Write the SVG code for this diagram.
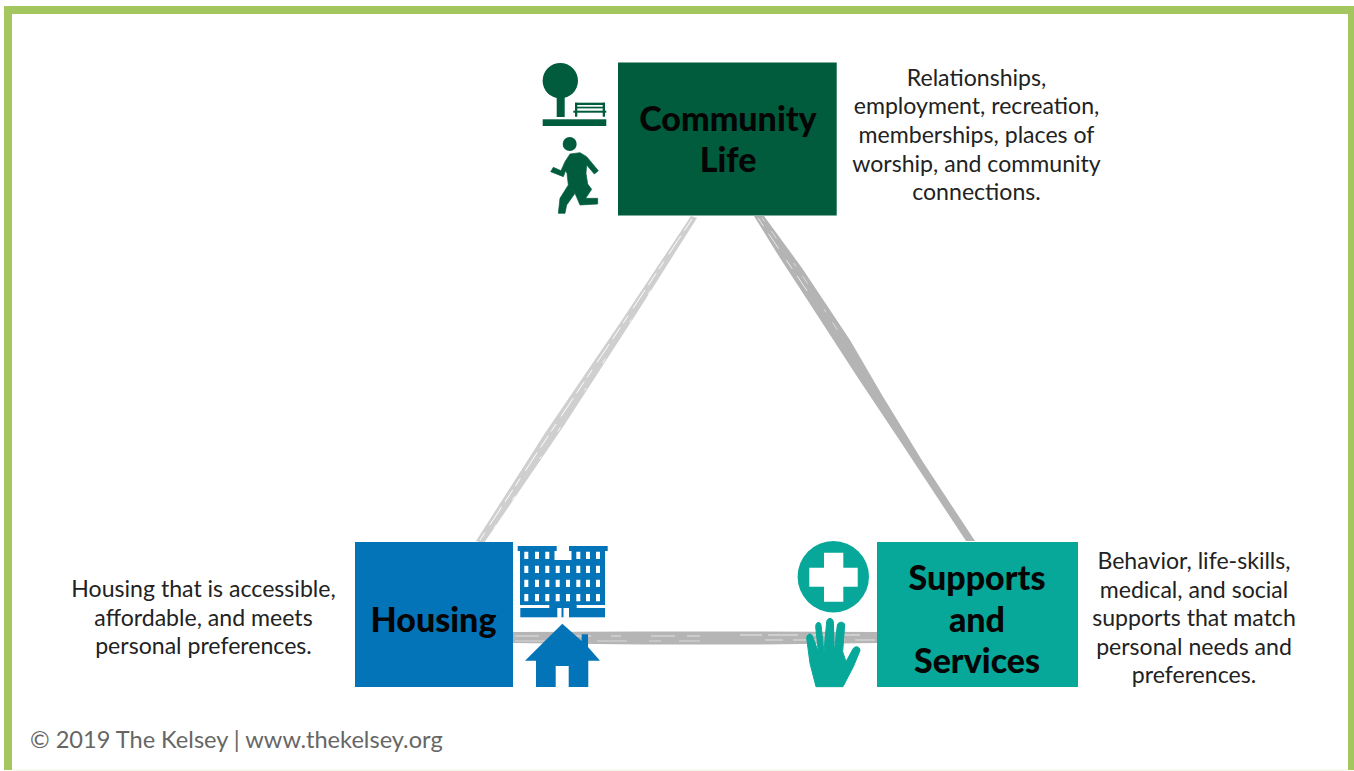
<svg xmlns="http://www.w3.org/2000/svg" width="1354" height="771" viewBox="0 0 1354 771">
<style>
text{font-family:Lato,"Open Sans","Liberation Sans",sans-serif}
.d{font-size:23.100px;fill:#222;text-anchor:middle}
.t{font-size:34px;font-weight:900;fill:#050505;text-anchor:middle}
.g{fill:#005c3d}.b{fill:#0474b9}.s{fill:#07a899}
.st{fill:none;stroke:#fff;stroke-width:1}
</style>
<rect width="1354" height="771" fill="#fff"/>
<path d="M4 770V6H1354V770H1348V14H12V770Z" fill="#a4c65e"/>
<rect x="12" y="769.500" width="1336" height="1.500" fill="#f3f7ea"/>
<g id="connectors">
<path d="M691 216L697 218L640 308L565 424L484 543L476 541L545 433L622 320Z" fill="#cfcfcf"/>
<path class="st" stroke-dasharray="14 6 22 9 9 5" d="M692 219L622 325L552 430L480 540"/>
<path class="st" stroke-dasharray="5 30 3 44" stroke-width="1.500" d="M696 222L627 326L558 431L486 540" opacity=".8"/>
<path d="M754 216L764 216L802 268L850 340L882 395L923 462L975 541L966 541L904 447L858 378L810 304L780 258Z" fill="#b4b4b4"/>
<path class="st" stroke-dasharray="10 9 18 14" stroke-width=".8" d="M758 218L785 258L812 298" opacity=".7"/>
<path class="st" stroke-dasharray="4 12 9 30" stroke-width=".8" d="M762 218L800 272L840 334" opacity=".5"/>
<path d="M513 632L640 631.500L760 631.500L877 632L877 643L760 644.500L640 644.500L513 643Z" fill="#b5b5b5"/>
<path class="st" stroke-dasharray="24 12 40 20 10 30" stroke-width=".8" d="M515 636H700" opacity=".6"/>
<path class="st" stroke-dasharray="30 22 12 18" stroke-width=".8" d="M515 641H700" opacity=".5"/>
<path class="st" stroke-dasharray="22 6 30 12" stroke-width="1" d="M740 635H860" opacity=".7"/>
<path class="st" stroke-dasharray="18 10 26 8" stroke-width=".8" d="M765 640H875" opacity=".6"/>
</g>
<g id="community-life">
<rect class="g" x="618" y="62.500" width="218.700" height="153"/>
<text class="t" x="728" y="131">Community</text>
<text class="t" x="728" y="172">Life</text>
<g class="g">
<circle cx="560.300" cy="80.700" r="17.700"/>
<path d="M556.700 95H564.700L564.700 117H556.700Z"/>
<rect x="542.700" y="119.300" width="63.600" height="6.700"/>
<rect x="575" y="102.700" width="30" height="2.300"/>
<rect x="575" y="106.700" width="30" height="1.700"/>
<rect x="573.300" y="110.700" width="33" height="2"/>
<rect x="575" y="102.700" width="2.300" height="14"/>
<rect x="602.700" y="102.700" width="2.300" height="14"/>
<circle cx="569.700" cy="144" r="7"/>
<path transform="translate(545 130) scale(.33333)" stroke="#005c3d" stroke-width="2" stroke-linejoin="round" d="M75 72L105 68L125 80L160 122L148 132L125 105L123 130L128 162L140 178L122 205L158 205L158 222L105 225L90 190L65 225L60 250L40 250L45 205L70 165L66 130L62 122L55 140L17 125L25 112L48 122L60 95Z"/>
</g>
</g>
<text class="d" x="976.500" y="85.500">Relationships,</text>
<text class="d" x="976.500" y="114">employment, recreation,</text>
<text class="d" x="976.500" y="142.500">memberships, places of</text>
<text class="d" x="976.500" y="171.500">worship, and community</text>
<text class="d" x="976.500" y="199.500">connections.</text>
<g id="housing">
<rect class="b" x="355" y="542" width="158" height="145"/>
<text class="t" x="433.500" y="632">Housing</text>
<path class="b" fill-rule="evenodd" d="M517.700 546H556.700V551H554.500V560H571.500V551H569V546H607.700V551H605V605H576.700V608H549.300V605H520V551H517.700ZM524.300 551.700V559H528.300V551.700ZM535 551.700V559H539V551.700ZM545.300 551.700V559H549.300V551.700ZM576.300 551.700V559H580.300V551.700ZM586 551.700V559H590V551.700ZM596 551.700V559H600V551.700ZM524.300 565.700V573H528.300V565.700ZM535 565.700V573H539V565.700ZM545.300 565.700V573H549.300V565.700ZM555.700 565.700V573H559.700V565.700ZM566 565.700V573H570V565.700ZM576.300 565.700V573H580.300V565.700ZM586 565.700V573H590V565.700ZM596 565.700V573H600V565.700ZM524.300 579.700V587H528.300V579.700ZM535 579.700V587H539V579.700ZM545.300 579.700V587H549.300V579.700ZM555.700 579.700V587H559.700V579.700ZM566 579.700V587H570V579.700ZM576.300 579.700V587H580.300V579.700ZM586 579.700V587H590V579.700ZM596 579.700V587H600V579.700ZM524.300 594V601.300H528.300V594ZM535 594V601.300H539V594ZM545.300 594V601.300H549.300V594ZM555.700 594V601.300H559.700V594ZM566 594V601.300H570V594ZM576.300 594V601.300H580.300V594ZM586 594V601.300H590V594ZM596 594V601.300H600V594Z"/>
<rect class="b" x="520.300" y="608" width="37" height="9.300"/>
<rect class="b" x="569" y="608" width="36" height="9.300"/>
<rect class="b" x="561.500" y="607" width="2" height="10.300"/>
<path class="b" d="M562.300 623.700L581.700 641V634.300H588V647L600 660.700H588.300V687H568.700V666H555.700V687H536V660.700H525Z"/>
</g>
<text class="d" x="203.500" y="596.500">Housing that is accessible,</text>
<text class="d" x="203.500" y="625.500">affordable, and meets</text>
<text class="d" x="203.500" y="653.500">personal preferences.</text>
<g id="supports-and-services">
<rect class="s" x="877" y="542" width="201" height="145"/>
<text class="t" x="977" y="590">Supports</text>
<text class="t" x="977" y="632">and</text>
<text class="t" x="977" y="673">Services</text>
<circle class="s" cx="833.300" cy="576.700" r="35.700"/>
<path fill="#fff" d="M824 552.700H843.300V567.700H857.700V586.700H843.300V601.700H824V586.700H809.300V567.700H824Z"/>
<path class="s" transform="translate(800 610) scale(.33333)" stroke="#07a899" stroke-width="3" d="M48 230L30 160L20 85C20 70 36 68 38 80L55 125L47 50C47 34 62 34 63 45L72 125L80 35C82 22 98 22 100 35L103 125L112 45C114 34 134 34 134 45L128 125L138 155L160 115C166 108 180 108 180 122L160 170L129 230Z"/>
</g>
<text class="d" x="1194" y="568.500">Behavior, life-skills,</text>
<text class="d" x="1194" y="597.500">medical, and social</text>
<text class="d" x="1194" y="625.500">supports that match</text>
<text class="d" x="1194" y="654.500">personal needs and</text>
<text class="d" x="1194" y="682.500">preferences.</text>
<text x="30" y="748" font-size="23.600" fill="#666">© 2019 The Kelsey | www.thekelsey.org</text>
</svg>
